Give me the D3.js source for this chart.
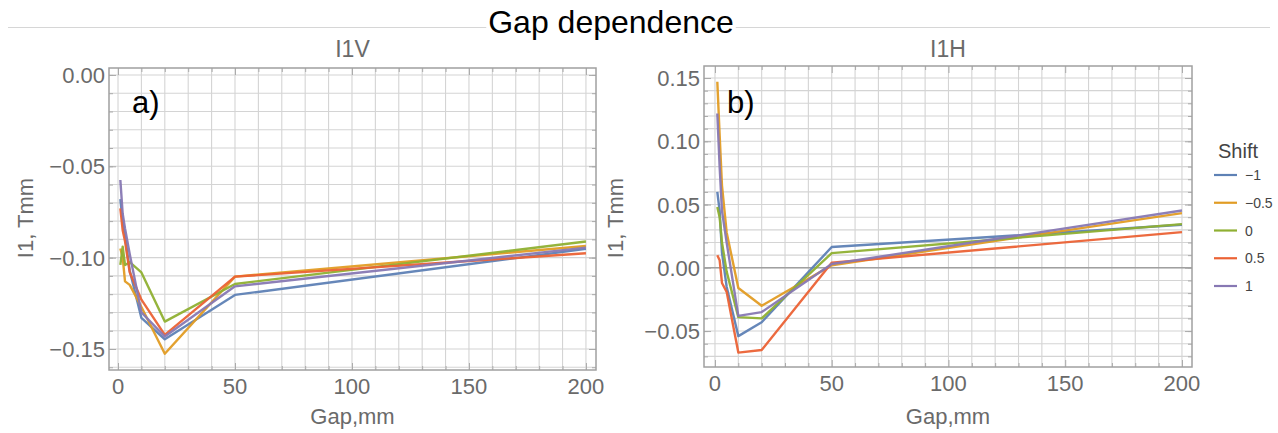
<!DOCTYPE html>
<html>
<head>
<meta charset="utf-8">
<script src="https://cdn.jsdelivr.net/npm/d3@7"></script>
<style>
  body { margin: 0; background: #fff; }
  text { font-family: "Liberation Sans", Arial, sans-serif; }
</style>
</head>
<body>
<div id="chart"></div>
<script>
// ----------------------
// Data
// ----------------------
const gaps = [1, 2, 3, 5, 10, 20, 50, 200];
const shifts = ["\u22121", "\u22120.5", "0", "0.5", "1"];
const colors = ["#5E81B5", "#E19C24", "#8FB032", "#EB6235", "#8778B3"];

// I1V, one array per shift
const i1vShiftM1  = [-0.068, -0.080, -0.088, -0.107, -0.133, -0.1447, -0.1204, -0.0952];
const i1vShiftM05 = [-0.095, -0.100, -0.113, -0.1149, -0.127, -0.1526, -0.1104, -0.0936];
const i1vShift0   = [-0.104, -0.094, -0.104, -0.1025, -0.1081, -0.135, -0.1144, -0.0912];
const i1vShift05  = [-0.073, -0.085, -0.091, -0.108, -0.123, -0.1423, -0.1104, -0.0976];
const i1vShift1   = [-0.0575, -0.076, -0.084, -0.098, -0.130, -0.1432, -0.1157, -0.0945];

// I1H, one array per shift
const i1hShiftM1  = [0.060, 0.045, 0.012, -0.015, -0.054, -0.043, 0.0164, 0.034];
const i1hShiftM05 = [0.147, 0.105, 0.065, 0.028, -0.016, -0.030, 0.002, 0.0432];
const i1hShift0   = [0.048, 0.040, 0.020, -0.003, -0.039, -0.040, 0.0116, 0.0345];
const i1hShift05  = [0.010, 0.006, -0.012, -0.019, -0.067, -0.065, 0.004, 0.0282];
const i1hShift1   = [0.122, 0.080, 0.045, 0.020, -0.038, -0.035, 0.003, 0.0453];

const xTicksMajor = [0, 50, 100, 150, 200];
const i1vTicks = [0, -0.05, -0.10, -0.15];
const i1hTicks = [0.15, 0.10, 0.05, 0, -0.05];

// ----------------------
// SVG setup
// ----------------------
const W = 1278, H = 433;
const svg = d3.select("#chart")
    .append("svg")
    .attr("width", W)
    .attr("height", H);

const gray = "#6a6a6a";

// Title with rule behind it
const title = svg.append("text")
    .attr("x", 611)
    .attr("y", 33)
    .attr("text-anchor", "middle")
    .attr("font-size", 32)
    .attr("fill", "#000")
    .text("Gap dependence");

const tb = title.node().getBBox();
svg.insert("line", "text")
    .attr("x1", 8).attr("x2", tb.x - 2)
    .attr("y1", 27.5).attr("y2", 27.5)
    .attr("stroke", "#d6d6d6");
svg.insert("line", "text")
    .attr("x1", tb.x + tb.width + 2).attr("x2", 1270)
    .attr("y1", 27.5).attr("y2", 27.5)
    .attr("stroke", "#d6d6d6");

// ----------------------
// Panel drawing
// ----------------------
function drawPanel(cfg) {
    const x = d3.scaleLinear().domain(cfg.xDomain).range([cfg.left, cfg.right]);
    const y = d3.scaleLinear().domain(cfg.yDomain).range([cfg.bottom, cfg.top]);
    const g = svg.append("g");

    // grid lines every 10 mm and every 0.01 Tmm
    const xGrid = d3.range(0, 201, 10);
    const yGrid = d3.range(Math.ceil(cfg.yDomain[0] * 100), Math.floor(cfg.yDomain[1] * 100) + 1)
        .map(d => d / 100);

    g.selectAll(".vgrid").data(xGrid).enter().append("line")
        .attr("x1", d => x(d)).attr("x2", d => x(d))
        .attr("y1", cfg.top).attr("y2", cfg.bottom)
        .attr("stroke", "#d4d4d4").attr("stroke-width", 1.1);

    g.selectAll(".hgrid").data(yGrid).enter().append("line")
        .attr("x1", cfg.left).attr("x2", cfg.right)
        .attr("y1", d => y(d)).attr("y2", d => y(d))
        .attr("stroke", "#d4d4d4").attr("stroke-width", 1.1);

    // zero axis
    if (cfg.yDomain[0] < 0 && cfg.yDomain[1] > 0.005) {
        g.append("line")
            .attr("x1", cfg.left).attr("x2", cfg.right)
            .attr("y1", y(0)).attr("y2", y(0))
            .attr("stroke", "#a0a0a0").attr("stroke-width", 1.4);
    }

    // frame ticks (inward)
    const tickColor = "#aaaaaa";
    [[d3.axisBottom, cfg.bottom], [d3.axisTop, cfg.top]].forEach(([ax, pos]) => {
        g.append("g").attr("transform", `translate(0,${pos})`)
            .call(ax(x).tickValues(xGrid.filter(d => d % 50 !== 0)).tickSize(-4).tickFormat(""))
            .call(a => a.select(".domain").remove())
            .selectAll("line").attr("stroke", tickColor);
        g.append("g").attr("transform", `translate(0,${pos})`)
            .call(ax(x).tickValues(xTicksMajor).tickSize(-7).tickFormat(""))
            .call(a => a.select(".domain").remove())
            .selectAll("line").attr("stroke", tickColor);
    });
    [[d3.axisLeft, cfg.left], [d3.axisRight, cfg.right]].forEach(([ax, pos]) => {
        g.append("g").attr("transform", `translate(${pos},0)`)
            .call(ax(y).tickValues(yGrid).tickSize(-4).tickFormat(""))
            .call(a => a.select(".domain").remove())
            .selectAll("line").attr("stroke", tickColor);
        g.append("g").attr("transform", `translate(${pos},0)`)
            .call(ax(y).tickValues(cfg.yTicks).tickSize(-7).tickFormat(""))
            .call(a => a.select(".domain").remove())
            .selectAll("line").attr("stroke", tickColor);
    });

    // series
    const line = d3.line()
        .x((d, i) => x(gaps[i]))
        .y(d => y(d));

    g.selectAll(".series").data(cfg.series).enter().append("path")
        .attr("d", d => line(d))
        .attr("fill", "none")
        .attr("stroke", (d, i) => colors[i])
        .attr("stroke-width", 2.4)
        .attr("stroke-linejoin", "round")
        .attr("opacity", 0.95);

    // frame
    g.append("rect")
        .attr("x", cfg.left).attr("y", cfg.top)
        .attr("width", cfg.right - cfg.left)
        .attr("height", cfg.bottom - cfg.top)
        .attr("fill", "none")
        .attr("stroke", "#a0a0a0")
        .attr("stroke-width", 1.5);

    // tick labels
    g.selectAll(".xlab").data(xTicksMajor).enter().append("text")
        .attr("x", d => x(d))
        .attr("y", cfg.bottom + 24)
        .attr("text-anchor", "middle")
        .attr("font-size", 22)
        .attr("fill", gray)
        .text(d => d);

    const fmt = d3.format(".2f");
    g.selectAll(".ylab").data(cfg.yTicks).enter().append("text")
        .attr("x", cfg.left - 4)
        .attr("y", d => y(d) + 8)
        .attr("text-anchor", "end")
        .attr("font-size", 22)
        .attr("fill", gray)
        .text(d => fmt(d).replace("-", "\u2212"));

    // panel title
    g.append("text")
        .attr("x", (cfg.left + cfg.right) / 2)
        .attr("y", 57)
        .attr("text-anchor", "middle")
        .attr("font-size", 23)
        .attr("fill", gray)
        .text(cfg.title);

    // axis labels
    g.append("text")
        .attr("x", (cfg.left + cfg.right) / 2)
        .attr("y", 424)
        .attr("text-anchor", "middle")
        .attr("font-size", 22)
        .attr("fill", gray)
        .text("Gap,mm");

    g.append("text")
        .attr("transform", `translate(${cfg.yLabelX},218) rotate(-90)`)
        .attr("text-anchor", "middle")
        .attr("font-size", 22)
        .attr("fill", gray)
        .text("I1, Tmm");

    // letter tag
    g.append("text")
        .attr("x", cfg.left + 23)
        .attr("y", 113)
        .attr("font-size", 31)
        .attr("fill", "#000")
        .text(cfg.tag);
}

drawPanel({
    title: "I1V", tag: "a)",
    left: 109, right: 596, top: 68, bottom: 370,
    xDomain: [-3.85, 204.3], yDomain: [-0.1615, 0.0038],
    yTicks: i1vTicks, yLabelX: 33,
    series: [i1vShiftM1, i1vShiftM05, i1vShift0, i1vShift05, i1vShift1]
});

drawPanel({
    title: "I1H", tag: "b)",
    left: 704, right: 1192, top: 66, bottom: 367,
    xDomain: [-4.7, 204.3], yDomain: [-0.0784, 0.1595],
    yTicks: i1hTicks, yLabelX: 623,
    series: [i1hShiftM1, i1hShiftM05, i1hShift0, i1hShift05, i1hShift1]
});

// ----------------------
// Legend
// ----------------------
const legend = svg.append("g").attr("transform", "translate(1214,0)");

legend.append("text")
    .attr("x", 4).attr("y", 158)
    .attr("font-size", 20)
    .attr("fill", "#444")
    .text("Shift");

const ly = d3.scalePoint().domain(shifts).range([175, 286]);

legend.selectAll(".lline").data(shifts).enter().append("line")
    .attr("x1", 0).attr("x2", 23)
    .attr("y1", d => ly(d)).attr("y2", d => ly(d))
    .attr("stroke", (d, i) => colors[i])
    .attr("stroke-width", 2.2);

legend.selectAll(".ltext").data(shifts).enter().append("text")
    .attr("x", 31)
    .attr("y", d => ly(d) + 5)
    .attr("font-size", 14)
    .attr("fill", "#444")
    .text(d => d);
</script>
</body>
</html>
